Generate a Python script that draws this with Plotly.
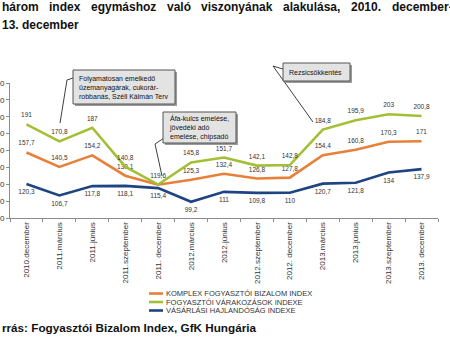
import plotly.graph_objects as go

# ---------------- data ----------------
categories = ["2010.december", "2011.március", "2011.június", "2011.szeptember",
              "2011. december", "2012.március", "2012.június", "2012.szeptember",
              "2012. december", "2013.március", "2013.június", "2013.szeptember",
              "2013. december"]
komplex = [157.7, 140.5, 154.2, 130.1, 119.4, 125.3, 132.4, 126.8, 127.8, 154.4, 160.8, 170.3, 171]
varakozas = [191, 170.8, 187, 140.8, 119.6, 145.8, 151.7, 142.1, 142.8, 184.8, 195.9, 203, 200.8]
vasarlas = [120.3, 106.7, 117.8, 118.1, 115.4, 99.2, 111, 109.8, 110, 120.7, 121.8, 134, 137.9]
series_names = ["KOMPLEX FOGYASZTÓI BIZALOM INDEX", "FOGYASZTÓI VÁRAKOZÁSOK INDEXE",
                "VÁSÁRLÁSI HAJLANDÓSÁG INDEXE"]
hidden_label = {0: [4]}  # komplex label hidden under the overlapping one
y_ticks = [80, 100, 120, 140, 160, 180, 200, 220, 240]

title_words = ["három", "index", "egymáshoz", "való", "viszonyának", "alakulása,", "2010.", "december-"]
title_line2 = "13. december"
source_text = "rrás: Fogyasztói Bizalom Index, GfK Hungária"
callouts = ["Folyamatosan emelkedő<br>üzemanyagárak, cukorár-<br>robbanás, Széll Kálmán Terv",
            "Áfa-kulcs emelése,<br>jövedéki adó<br>emelése, chipsadó",
            "Rezsicsökkentés"]

# ---------------- layout geometry ----------------
WIDTH, HEIGHT = 450, 338
L, R, T, B = 10, 12, 83, 120
PW, PH = WIDTH - L - R, HEIGHT - T - B


def px(x):
    return (x - L) / PW


def py(y):
    return (HEIGHT - B - y) / PH


def fmt(v):
    return str(int(v)) if float(v).is_integer() else f"{v:.1f}".replace(".", ",")


colors = ["#E8803A", "#A3BF36", "#1F4482"]
FONT = "Liberation Sans, Arial, sans-serif"
TXT = "#333333"

fig = go.Figure()
all_series = [komplex, varakozas, vasarlas]
positions = ["top center", "top center", "bottom center"]
for i, (vals, name) in enumerate(zip(all_series, series_names)):
    texts = [fmt(v) for v in vals]
    for j in hidden_label.get(i, []):
        texts[j] = ""
    fig.add_trace(go.Scatter(
        x=categories, y=vals, name=name, mode="lines+markers+text",
        line=dict(color=colors[i], width=2.6),
        marker=dict(size=7, color="rgba(0,0,0,0)"),
        text=texts, textposition=positions[i],
        textfont=dict(family=FONT, size=6.5, color=TXT),
        cliponaxis=False, showlegend=False, hoverinfo="skip"))

shapes = []
annotations = []

# title words (justified line) and second line
word_x = [0, 47, 89, 165, 199, 281, 349, 390]
for w, x in zip(title_words, word_x):
    annotations.append(dict(text=w, x=px(x), y=py(6.5), xref="paper", yref="paper",
                            xanchor="left", yanchor="middle", showarrow=False,
                            font=dict(family=FONT, size=12, color="#111")))
annotations.append(dict(text=title_line2, x=px(0), y=py(25), xref="paper", yref="paper",
                        xanchor="left", yanchor="middle", showarrow=False,
                        font=dict(family=FONT, size=12, color="#111")))
annotations.append(dict(text=source_text, x=px(0), y=py(327), xref="paper", yref="paper",
                        xanchor="left", yanchor="middle", showarrow=False,
                        font=dict(family=FONT, size=11.7, color="#111")))
for a in annotations:
    a["text"] = "<b>" + a["text"] + "</b>"

# manual legend
leg_y = [293.5, 302, 310.5]
for name, c, yy in zip(series_names, colors, leg_y):
    shapes.append(dict(type="line", xref="paper", yref="paper",
                       x0=px(149), x1=px(163), y0=py(yy), y1=py(yy),
                       line=dict(color=c, width=2.6)))
    annotations.append(dict(text=name, x=px(164), y=py(yy), xref="paper", yref="paper",
                            xanchor="left", yanchor="middle", showarrow=False,
                            font=dict(family=FONT, size=7.5, color=TXT)))

# callout boxes: (left, top, width, height)
boxes = [(73, 70, 102, 34), (163, 112, 73, 31), (283, 63, 67, 18)]
leaders = [[(73, 78), (67, 80), (60, 123)],
           [(164, 138), (155, 144), (162, 176)],
           [(283, 69), (273, 66), (313, 122)]]
for (bl, bt, bw, bh), txt, pts in zip(boxes, callouts, leaders):
    path = "M " + " L ".join(f"{px(x)},{py(y)}" for x, y in pts)
    shapes.append(dict(type="path", xref="paper", yref="paper", path=path,
                       line=dict(color="#404040", width=1)))
    shapes.append(dict(type="rect", xref="paper", yref="paper", layer="above",
                       x0=px(bl + 2), x1=px(bl + bw + 2), y0=py(bt + 2), y1=py(bt + bh + 2),
                       fillcolor="#9a9a9a", line=dict(width=0)))
    shapes.append(dict(type="rect", xref="paper", yref="paper", layer="above",
                       x0=px(bl), x1=px(bl + bw), y0=py(bt), y1=py(bt + bh),
                       fillcolor="#e3e3e3", line=dict(color="#555555", width=1)))
    annotations.append(dict(text=txt, x=px(bl + 4), y=py(bt + bh / 2), xref="paper", yref="paper",
                            xanchor="left", yanchor="middle", align="left", showarrow=False,
                            font=dict(family=FONT, size=7, color="#111")))

fig.update_layout(
    width=WIDTH, height=HEIGHT,
    margin=dict(l=L, r=R, t=T, b=B, pad=0),
    paper_bgcolor="white", plot_bgcolor="white",
    showlegend=False,
    shapes=shapes, annotations=annotations,
    xaxis=dict(type="category", categoryorder="array", categoryarray=categories,
               range=[-0.5, len(categories) - 0.5], showgrid=False, zeroline=False,
               showline=True, linecolor="#8c8c8c", linewidth=1,
               ticks="outside", ticklen=3, tickcolor="#8c8c8c", tickson="boundaries",
               tickangle=-90, tickfont=dict(family=FONT, size=8, color=TXT),
               automargin=False, fixedrange=True),
    yaxis=dict(range=[80, 240], tickvals=y_ticks, showgrid=False, zeroline=False,
               showline=True, linecolor="#8c8c8c", linewidth=1,
               ticks="outside", ticklen=3, tickcolor="#8c8c8c",
               tickfont=dict(family=FONT, size=8, color=TXT),
               automargin=False, fixedrange=True),
)

fig.write_html("out.html", config={"displayModeBar": False})
